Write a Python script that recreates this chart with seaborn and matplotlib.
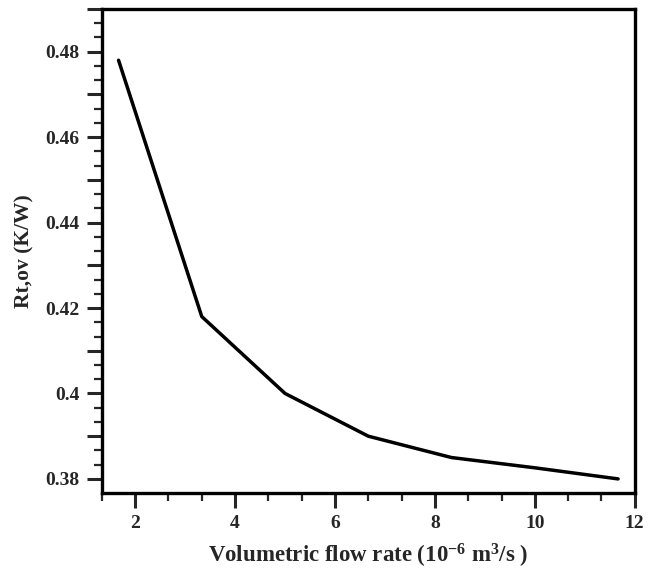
import matplotlib
matplotlib.use("Agg")
import matplotlib.pyplot as plt
from matplotlib.ticker import MultipleLocator, FuncFormatter
import seaborn as sns
import pandas as pd

# data
flow_rate = [1.667, 3.333, 5.0, 6.667, 8.333, 10.0, 11.667]   # 10^-6 m3/s
resistance = [0.478, 0.418, 0.400, 0.390, 0.385, 0.3826, 0.380]  # K/W

sns.set_style("ticks")
plt.rcParams["font.family"] = ["Liberation Serif", "DejaVu Serif"]
plt.rcParams["font.weight"] = "bold"
plt.rcParams["mathtext.fontset"] = "custom"
plt.rcParams["mathtext.bf"] = "Liberation Serif:bold"
plt.rcParams["mathtext.rm"] = "Liberation Serif:bold"
plt.rcParams["mathtext.default"] = "bf"

df = pd.DataFrame({"flow": flow_rate, "rt": resistance})

fig = plt.figure(figsize=(6.53, 5.73), dpi=100)
ax = fig.add_axes([0.156, 0.1396, 0.816, 0.8447])

sns.lineplot(data=df, x="flow", y="rt", color="black", linewidth=2.5, ax=ax)

ax.set_xlim(1.333, 12)
ax.set_ylim(0.3767, 0.49)

ax.xaxis.set_major_locator(MultipleLocator(2))
ax.xaxis.set_minor_locator(MultipleLocator(2 / 3))
ax.yaxis.set_major_locator(MultipleLocator(0.01))
ax.yaxis.set_minor_locator(MultipleLocator(0.01 / 3))


def ylab(v, pos):
    # only every second long tick carries a label
    k = int(round(v * 100))
    if k % 2:
        return ""
    return f"{v:.2f}".rstrip("0")


ax.yaxis.set_major_formatter(FuncFormatter(ylab))
ax.xaxis.set_major_formatter(FuncFormatter(lambda v, p: f"{v:g}"))

ax.tick_params(which="major", direction="out", length=11, width=2.2,
               labelsize=14, pad=5)
ax.tick_params(which="minor", direction="out", length=6, width=1.6)
for lab in ax.get_xticklabels() + ax.get_yticklabels():
    lab.set_fontweight("bold")

for side in ["left", "right", "top", "bottom"]:
    ax.spines[side].set_visible(True)
    ax.spines[side].set_linewidth(2.4)
    ax.spines[side].set_color("black")

ax.set_xlabel("Volumetric flow rate (10$^{-6}$ m$^{3}$/s )",
              fontsize=16.5, fontweight="bold", labelpad=7)
ax.set_ylabel("Rt,ov (K/W)", fontsize=15.5, fontweight="bold", labelpad=8)

fig.savefig("out.png", dpi=100)
